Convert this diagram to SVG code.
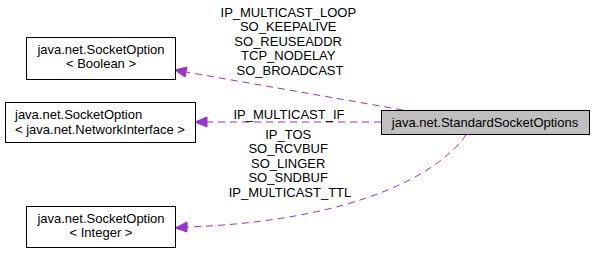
<svg xmlns="http://www.w3.org/2000/svg" width="595" height="253" viewBox="0 0 595 253">
  <style>
    .node rect { fill: #ffffff; stroke: #000000; stroke-width: 1; }
    .node.main rect { fill: #bfbfbf; }
    text { font-family: "Liberation Sans", Arial, sans-serif; font-size: 13px; fill: #000000; }
    .edge { fill: none; stroke: #9a32cd; stroke-width: 1; stroke-dasharray: 7 5; }
    .arrow { fill: #9a32cd; stroke: #9a32cd; }
  </style>

  <!-- dependency edges from StandardSocketOptions to SocketOption specialisations -->
  <g id="edges">
    <path class="edge" d="M403,110 L186,72"/>
    <polygon class="arrow" points="175,70 187,67 185,77"/>
    <text text-anchor="middle">
      <tspan x="290" y="17">IP_MULTICAST_LOOP</tspan>
      <tspan x="290" y="31">SO_KEEPALIVE</tspan>
      <tspan x="290" y="46">SO_REUSEADDR</tspan>
      <tspan x="290" y="60">TCP_NODELAY</tspan>
      <tspan x="290" y="75">SO_BROADCAST</tspan>
    </text>

    <path class="edge" d="M381,122 L207,122"/>
    <polygon class="arrow" points="195,122 207,117 207,127"/>
    <text x="289" y="119" text-anchor="middle">IP_MULTICAST_IF</text>

    <path class="edge" d="M466,135 C430,185 330,222 187,227"/>
    <polygon class="arrow" points="175,228 187,222 187,232"/>
    <text text-anchor="middle">
      <tspan x="290" y="139">IP_TOS</tspan>
      <tspan x="290" y="153">SO_RCVBUF</tspan>
      <tspan x="290" y="168">SO_LINGER</tspan>
      <tspan x="290" y="182">SO_SNDBUF</tspan>
      <tspan x="290" y="197">IP_MULTICAST_TTL</tspan>
    </text>
  </g>

  <g id="node_boolean" class="node">
    <rect x="26.5" y="37.5" width="149" height="42"/>
    <text x="101" y="54" text-anchor="middle">java.net.SocketOption</text>
    <text x="101" y="68" text-anchor="middle">&lt; Boolean &gt;</text>
  </g>

  <g id="node_netif" class="node">
    <rect x="5.5" y="102.5" width="190" height="40"/>
    <text x="15" y="119">java.net.SocketOption</text>
    <text x="15" y="134">&lt; java.net.NetworkInterface &gt;</text>
  </g>

  <g id="node_integer" class="node">
    <rect x="26.5" y="206.5" width="149" height="41"/>
    <text x="101" y="223" text-anchor="middle">java.net.SocketOption</text>
    <text x="101" y="237" text-anchor="middle">&lt; Integer &gt;</text>
  </g>

  <g id="node_standard" class="node main">
    <rect x="381.5" y="110.5" width="208" height="24"/>
    <text x="485" y="127" text-anchor="middle">java.net.StandardSocketOptions</text>
  </g>
</svg>
